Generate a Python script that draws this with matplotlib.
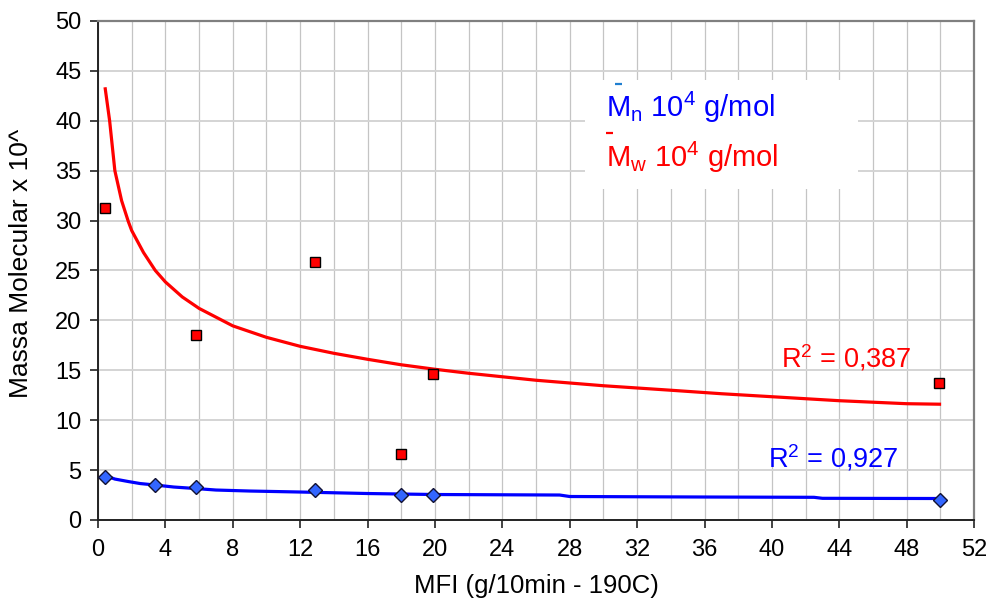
import matplotlib
matplotlib.use('Agg')
import matplotlib.pyplot as plt
from matplotlib.ticker import MultipleLocator
from matplotlib.patches import Rectangle

plt.rcParams['font.family'] = ['Liberation Sans', 'DejaVu Sans']
plt.rcParams['mathtext.fontset'] = 'custom'
plt.rcParams['mathtext.rm'] = 'Liberation Sans'
plt.rcParams['mathtext.it'] = 'Liberation Sans:italic'
plt.rcParams['mathtext.default'] = 'regular'

# measured points (MFI, massa molecular x 10^4)
mn_mfi = [0.4, 3.4, 5.8, 12.9, 18.0, 19.9, 50.0]
mn_val = [4.3, 3.5, 3.3, 3.0, 2.5, 2.5, 2.0]
mw_mfi = [0.4, 5.8, 12.9, 18.0, 19.9, 49.9]
mw_val = [31.3, 18.5, 25.8, 6.6, 14.6, 13.7]

# power trend lines
mn_trend_x = [0.42, 1.0, 1.8, 2.5, 3.4, 4.5, 5.8, 7.0, 9.0, 12.0, 16.0, 20.0, 27.4, 28.0, 36.0, 42.5, 43.0, 50.0]
mn_trend_y = [4.45, 4.1, 3.85, 3.65, 3.5, 3.3, 3.15, 3.0, 2.9, 2.8, 2.65, 2.55, 2.5, 2.35, 2.3, 2.27, 2.17, 2.15]
mw_trend_x = [0.43, 0.69, 1.0, 1.4, 1.8, 2.0, 2.7, 3.4, 4.0, 5.0, 6.0, 8.0, 10.0, 12.0, 14.0,
              16.0, 18.0, 20.0, 22.0, 26.0, 30.0, 34.0, 37.0, 40.0, 44.0, 48.0, 49.95]
mw_trend_y = [43.2, 40.0, 35.0, 32.0, 29.9, 29.0, 26.8, 25.0, 23.85, 22.35, 21.2, 19.45, 18.3, 17.4, 16.7,
              16.1, 15.55, 15.1, 14.7, 14.0, 13.45, 13.0, 12.65, 12.35, 11.95, 11.65, 11.6]

mn_r2 = '0,927'
mw_r2 = '0,387'

fig = plt.figure(figsize=(9.9, 6.03), dpi=100)
ax = fig.add_axes([0.099, 0.1377, 0.8849, 0.8275])

ax.set_xlim(0, 52)
ax.set_ylim(0, 50)
ax.xaxis.set_major_locator(MultipleLocator(4))
ax.xaxis.set_minor_locator(MultipleLocator(2))
ax.yaxis.set_major_locator(MultipleLocator(5))

# grid
ax.set_axisbelow(True)
ax.grid(True, axis='x', which='both', color='#c4c4c4', lw=0.9)
ax.grid(True, axis='y', which='major', color='#d4d4d4', lw=1.4)

for side in ['top', 'right']:
    ax.spines[side].set_color('#808080')
    ax.spines[side].set_linewidth(1.6)
for side in ['left', 'bottom']:
    ax.spines[side].set_color('#222222')
    ax.spines[side].set_linewidth(1.4)

ax.tick_params(axis='both', which='major', direction='out', length=6, width=1.2,
               colors='#222222', labelcolor='black', labelsize=17)
ax.tick_params(axis='x', which='major', pad=8)
ax.tick_params(axis='y', which='major', pad=6)
ax.tick_params(axis='x', which='minor', length=0)

# trend lines
ax.plot(mw_trend_x, mw_trend_y, color='#ff0000', lw=2.3, zorder=3)
ax.plot(mn_trend_x, mn_trend_y, color='#0000ff', lw=2.3, zorder=3)

# data
ax.plot(mw_mfi, mw_val, ls='none', marker='s', ms=7.5, mfc='#ff0000', mec='black', mew=1.0, zorder=4)
ax.plot(mn_mfi, mn_val, ls='none', marker='D', ms=7.2, mfc='#3366ff', mec='#111133', mew=1.0, zorder=4)

# legend box
ax.add_patch(Rectangle((0.556, 0.663), 0.312, 0.219, transform=ax.transAxes,
                       facecolor='white', edgecolor='none', zorder=2))
ax.text(0.580, 0.808, r'M$_n$ 10$^4$ g/mol', transform=ax.transAxes, color='#0000ff',
        fontsize=21, ha='left', va='baseline', zorder=5)
ax.text(0.580, 0.708, r'M$_w$ 10$^4$ g/mol', transform=ax.transAxes, color='#ff0000',
        fontsize=21, ha='left', va='baseline', zorder=5)
# overline bars of the mean symbols
ax.plot([0.590, 0.598], [0.874, 0.874], transform=ax.transAxes, color='#1f7fd0',
        lw=1.6, solid_capstyle='butt', zorder=5)
ax.plot([0.580, 0.588], [0.776, 0.776], transform=ax.transAxes, color='#ff0000',
        lw=1.6, solid_capstyle='butt', zorder=5)

# R^2 labels
ax.text(0.780, 0.305, 'R$^2$ = ' + mw_r2, transform=ax.transAxes, color='#ff0000',
        fontsize=19.5, ha='left', va='baseline', zorder=5)
ax.text(0.765, 0.105, 'R$^2$ = ' + mn_r2, transform=ax.transAxes, color='#0000ff',
        fontsize=19.5, ha='left', va='baseline', zorder=5)

ax.set_xlabel('MFI (g/10min - 190C)', fontsize=18.5)
ax.xaxis.set_label_coords(0.5, -0.108)
ax.set_ylabel('Massa Molecular x 10^', fontsize=19, va='center')
ax.yaxis.set_label_coords(-0.088, 0.514)

fig.savefig('out.png', dpi=100)
